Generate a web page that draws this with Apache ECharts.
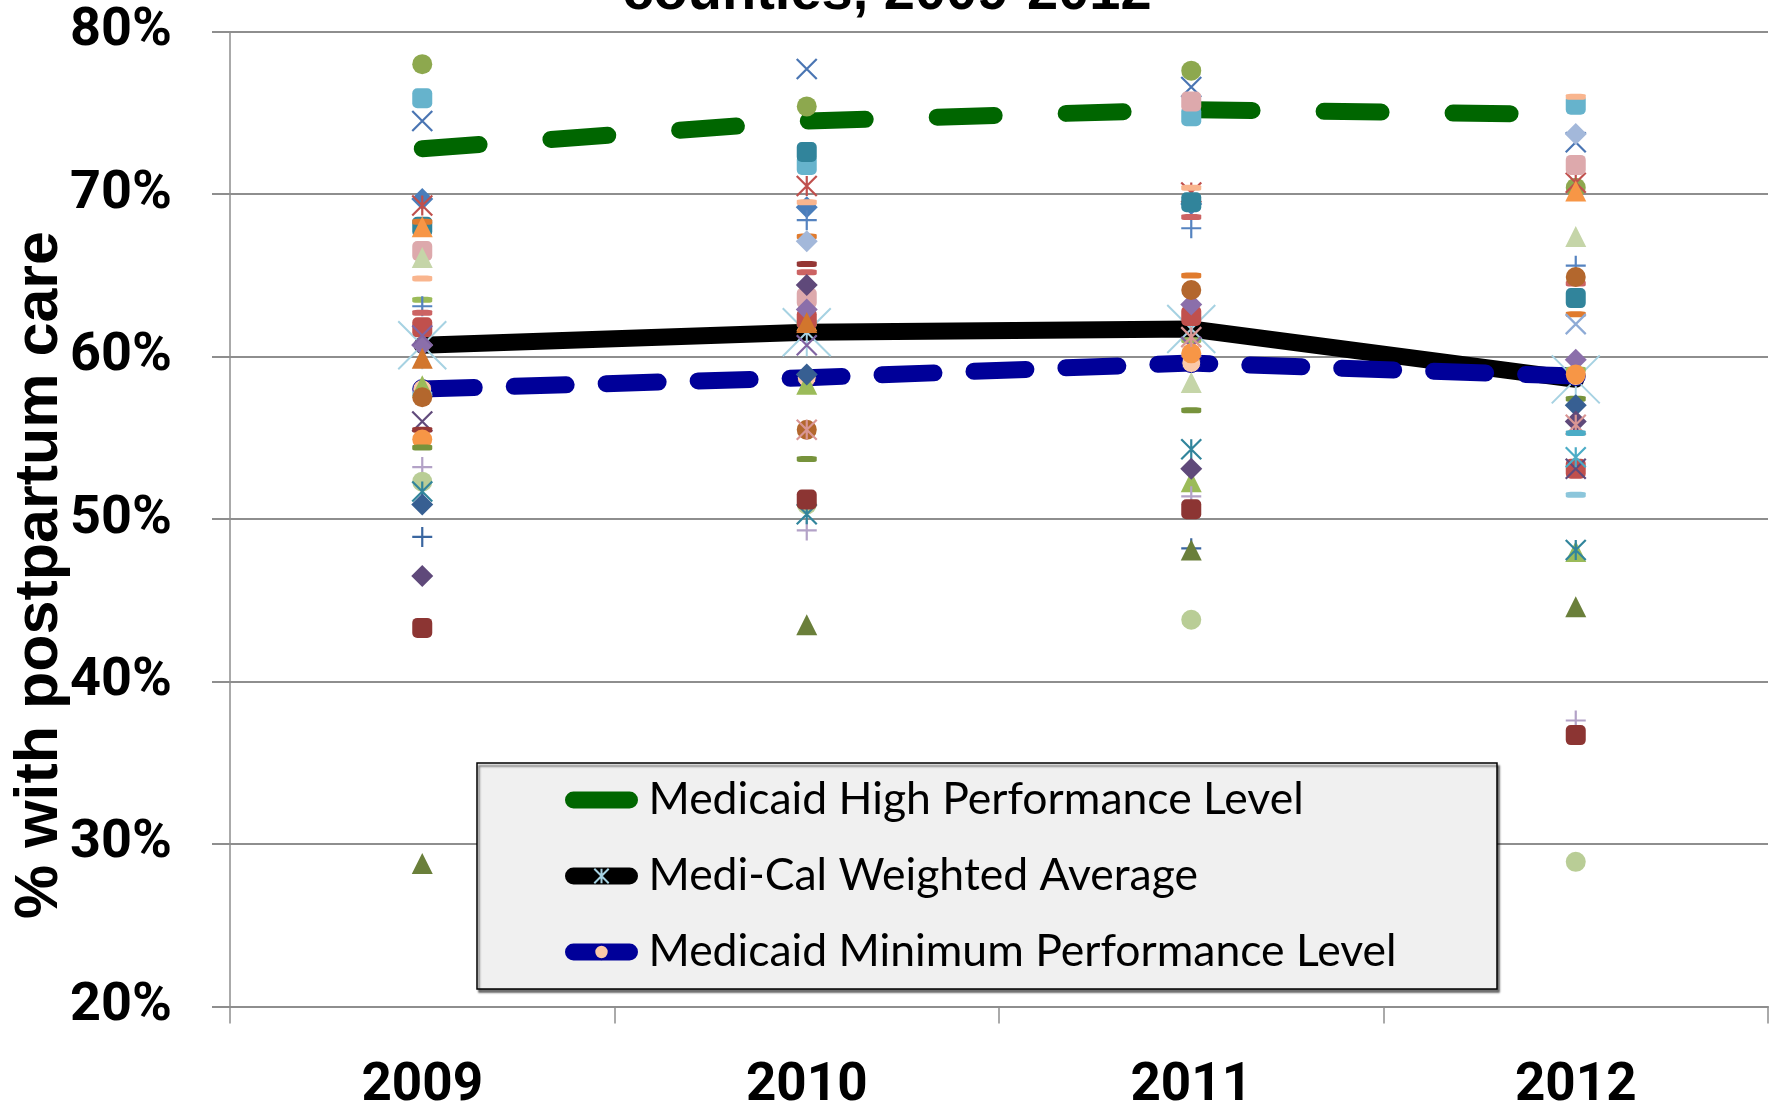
<!DOCTYPE html>
<html>
<head>
<meta charset="utf-8">
<script src="https://cdn.jsdelivr.net/npm/echarts@6/dist/echarts.min.js"></script>
<style>
  html, body { margin: 0; padding: 0; background: #ffffff; }
  #chart { width: 1777px; height: 1106px; }
</style>
</head>
<body>
<div id="chart"></div>
<script>
// ---- data ----
const years = ['2009', '2010', '2011', '2012'];
const yMin = 20, yMax = 80, yStep = 10;

const highPerformance    = [72.8, 74.5, 75.2, 74.9];
const weightedAverage    = [60.7, 61.5, 61.7, 58.6];
const minimumPerformance = [58.0, 58.7, 59.6, 58.8];

// one row per county: rate in 2009, 2010, 2011, 2012 (null = not reported)
const countyRates = [
  [78.0, 75.4, 77.6, 70.4],
  [75.9, 71.8, 74.8, 75.5],
  [74.5, 77.7, 76.6, 73.2],
  [69.7, 69.2, 69.4, null],
  [69.3, 70.5, 70.1, 70.7],
  [68.0, 72.6, 69.5, 63.6],
  [68.3, 67.4, 65.0, 62.6],
  [68.0, 62.2, null, 70.2],
  [66.5, 63.6, 75.7, 71.8],
  [66.1, 62.8, 58.4, 67.4],
  [64.8, 69.5, 70.4, 76.0],
  [63.5, 62.0, 61.0, 59.2],
  [63.1, 68.4, 67.9, 65.6],
  [62.7, 65.2, 68.6, 64.5],
  [61.8, 62.3, 62.5, 53.1],
  [60.7, 62.9, 63.2, 59.8],
  [61.3, 60.7, 60.6, null],
  [59.9, 62.1, null, null],
  [58.2, 58.3, 52.3, 48.0],
  [57.7, null, null, 51.5],
  [57.5, 55.5, 64.1, 64.9],
  [56.0, null, null, 53.1],
  [55.5, 65.7, null, null],
  [54.9, null, 60.2, 58.9],
  [54.4, 53.7, 56.7, 57.4],
  [53.2, 49.3, 51.4, 37.6],
  [52.3, 50.9, 43.8, 28.9],
  [51.7, 50.3, 54.3, 48.1],
  [50.9, 58.9, null, 57.0],
  [48.9, null, 48.2, null],
  [46.5, 64.4, 53.1, 56.0],
  [43.3, 51.2, 50.6, 36.7],
  [28.8, 43.5, 48.1, 44.6],
  [null, 55.5, 61.2, 55.8],
  [null, null, null, 53.8],
  [null, 67.1, null, 73.7],
  [null, null, null, 62.0],
  [null, null, null, 55.3]
];

// ---- marker styles (shape, colour) for each county row ----
const countyMarkers = [
  ['circle', '#8DA84E'], ['square', '#66B3CC'], ['cross', '#4A75B3'], ['diamond', '#4A7EBB'],
  ['asterisk', '#C0504D'], ['square', '#31849B'], ['dash', '#E07B2E'], ['triangle', '#F79646'],
  ['square', '#DDA9AC'], ['triangle', '#C5D5A8'], ['dash', '#F9B58E'], ['dash', '#9BBB59'],
  ['plus', '#5583C0'], ['dash', '#CC6363'], ['square', '#C0504D'], ['diamond', '#8B6FAA'],
  ['cross', '#8064A2'], ['triangle', '#D2762D'], ['triangle', '#9BBB59'], ['dash', '#8CC6DB'],
  ['circle', '#B3672D'], ['cross', '#604A7B'], ['dash', '#953735'], ['circle', '#F79646'],
  ['dash', '#77933C'], ['plus', '#B3A2C7'], ['circle', '#B9CD96'], ['asterisk', '#31859C'],
  ['diamond', '#375F92'], ['plus', '#3A66A0'], ['diamond', '#5F497A'], ['square', '#8C3533'],
  ['triangle', '#6A7F3A'], ['asterisk', '#D99694'], ['asterisk', '#4BACC6'], ['diamond', '#A3B8DA'],
  ['cross', '#8EABD6'], ['dash', '#4BACC6']
];

const SHAPES = {
  circle:   { symbol: 'circle', size: 20, stroke: false },
  square:   { symbol: 'roundRect', size: 20, stroke: false },
  diamond:  { symbol: 'diamond', size: 22, stroke: false },
  triangle: { symbol: 'triangle', size: 21, stroke: false },
  dash:     { symbol: 'roundRect', size: [20, 6], stroke: false },
  cross:    { symbol: 'path://M0,0L10,10M10,0L0,10', size: 20, stroke: true },
  asterisk: { symbol: 'path://M0,0L10,10M10,0L0,10M5,0L5,10', size: 20, stroke: true },
  plus:     { symbol: 'path://M5,0L5,10M0,5L10,5', size: 20, stroke: true }
};

const GRID_GRAY = '#8e8e8e';
const TICK_FONT = "Roboto, 'Liberation Sans', sans-serif";
const LEGEND_FONT = "Lato, 'Liberation Sans', sans-serif";

const countySeries = countyRates.map((row, i) => {
  const [shape, color] = countyMarkers[i];
  const s = SHAPES[shape];
  return {
    type: 'scatter',
    name: 'county' + (i + 1),
    data: row.map(v => (v == null ? '-' : v)),
    symbol: s.symbol,
    symbolSize: s.size,
    itemStyle: s.stroke
      ? { color: 'rgba(0,0,0,0)', borderColor: color, borderWidth: 2.2, opacity: 1 }
      : { color: color, opacity: 1 },
    silent: true,
    z: 3
  };
});

const lineNames = ['Medicaid High Performance Level', 'Medi-Cal Weighted Average', 'Medicaid Minimum Performance Level'];

const option = {
  animation: false,
  backgroundColor: '#ffffff',
  grid: { left: 230, right: 9, top: 31.7, bottom: 99.6, containLabel: false, outerBoundsMode: 'none' },
  xAxis: {
    type: 'category',
    data: years,
    boundaryGap: true,
    axisLine: { show: true, lineStyle: { color: GRID_GRAY, width: 2 } },
    axisTick: { show: true, interval: 0, length: 17, lineStyle: { color: GRID_GRAY, width: 1.5 } },
    axisLabel: { margin: 54, color: '#000', fontFamily: TICK_FONT, fontWeight: 'bold', fontSize: 53, lineHeight: 53 },
    splitLine: { show: false }
  },
  yAxis: {
    type: 'value',
    min: yMin, max: yMax, interval: yStep,
    axisLine: { show: true, lineStyle: { color: GRID_GRAY, width: 1.5 } },
    axisTick: { show: true, length: 18, lineStyle: { color: GRID_GRAY, width: 2 } },
    axisLabel: { margin: 58, formatter: '{value}%', color: '#000', fontFamily: TICK_FONT, fontWeight: 'bold', fontSize: 54 },
    splitLine: { show: true, lineStyle: { color: GRID_GRAY, width: 2 } }
  },
  legend: {
    orient: 'vertical',
    left: 565, top: 775,
    padding: 0,
    itemGap: 26,
    itemWidth: 56, itemHeight: 18,
    selectedMode: false,
    z: 8,
    textStyle: { fontFamily: LEGEND_FONT, fontSize: 44.5, lineHeight: 50, color: '#000', padding: [0, 0, 0, 14] },
    data: [
      { name: lineNames[0], lineStyle: { type: 'solid', width: 17, cap: 'round' } },
      { name: lineNames[1], lineStyle: { type: 'solid', width: 17, cap: 'round' } },
      { name: lineNames[2], lineStyle: { type: 'solid', width: 17, cap: 'round' } }
    ]
  },
  graphic: [
    {
      type: 'text', z: 10,
      style: { text: 'counties, 2009-2012', x: 887, y: 22, textAlign: 'center', textVerticalAlign: 'bottom',
               font: "bold 56px 'Liberation Sans', sans-serif", fill: '#000' }
    },
    {
      type: 'text', z: 10, x: 40, y: 575, rotation: Math.PI / 2,
      style: { text: '% with postpartum care', x: 0, y: 0, textAlign: 'center', textVerticalAlign: 'middle',
               font: "bold 61px 'Liberation Sans', sans-serif", fill: '#000' }
    },
    {
      type: 'rect', z: 7,
      shape: { x: 477, y: 763, width: 1020, height: 226 },
      style: { fill: '#f0f0f0', stroke: '#000', lineWidth: 1.5,
               shadowBlur: 2, shadowOffsetX: 2, shadowOffsetY: 3, shadowColor: 'rgba(0,0,0,0.55)' }
    }
  ],
  series: [
    {
      type: 'line', name: lineNames[0], data: highPerformance,
      symbol: 'none', silent: true, z: 2,
      itemStyle: { color: '#006600' },
      lineStyle: { color: '#006600', width: 17, type: [57, 72], cap: 'round', join: 'round' }
    },
    {
      type: 'line', name: lineNames[1], data: weightedAverage,
      symbol: SHAPES.asterisk.symbol, symbolSize: 48, showSymbol: true, silent: true, z: 2,
      itemStyle: { color: 'rgba(0,0,0,0)', borderColor: '#A6D2E2', borderWidth: 2 },
      lineStyle: { color: '#000000', width: 17, cap: 'round', join: 'round' }
    },
    {
      type: 'line', name: lineNames[2], data: minimumPerformance,
      symbol: 'circle', symbolSize: 19, showSymbol: true, silent: true, z: 2,
      itemStyle: { color: '#FBC9A8', borderColor: '#000099', borderWidth: 1 },
      lineStyle: { color: '#000099', width: 17, type: [52, 40], cap: 'round', join: 'round' }
    }
  ].concat(countySeries)
};

const chart = echarts.init(document.getElementById('chart'), null, { renderer: 'canvas' });
chart.setOption(option);
</script>
</body>
</html>
